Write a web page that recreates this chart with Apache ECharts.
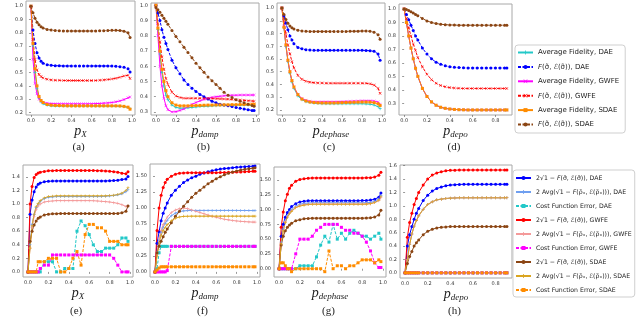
<!DOCTYPE html>
<html><head><meta charset="utf-8">
<script src="https://cdn.jsdelivr.net/npm/echarts@6/dist/echarts.min.js"></script>
<style>html,body{margin:0;padding:0;background:#fff}#c{width:640px;height:332px}</style>
</head><body><div id="c"></div>
<script>
// ---------- x grids ----------
const xs = [0,0.02,0.04,0.06,0.08,0.1,0.12,0.16,0.2,0.24,0.28,0.32,0.36,0.4,0.44,0.48,0.52,0.56,0.6,0.64,0.68,0.72,0.76,0.8,0.84,0.88,0.92,0.96,0.98];
const xd = [0,0.02,0.04,0.06,0.08,0.1,0.12,0.16,0.2,0.24,0.28,0.32,0.36,0.4,0.44,0.48,0.52,0.56,0.6,0.64,0.68,0.72,0.76,0.8,0.84,0.88,0.9];

// ---------- tick labels ----------
const xTicksFull = [0,0.2,0.4,0.6,0.8,1.0];
const xTicksDepo = [0,0.2,0.4,0.6,0.8];
const yTicksA = [0.2,0.3,0.4,0.5,0.6,0.7,0.8,0.9,1.0];
const yTicksB = [0.3,0.4,0.5,0.6,0.7,0.8,0.9,1.0];
const yTicksC = [0.2,0.3,0.4,0.5,0.6,0.7,0.8,0.9,1.0];
const yTicksD = [0.3,0.4,0.5,0.6,0.7,0.8,0.9,1.0];
const yTicksE = [0,0.2,0.4,0.6,0.8,1.0,1.2,1.4];
const yTicksF = [0,0.25,0.5,0.75,1.0,1.25,1.5];
const yTicksG = [0,0.25,0.5,0.75,1.0,1.25,1.5];
const yTicksH = [0,0.2,0.4,0.6,0.8,1.0,1.2,1.4,1.6];

// ---------- legend names ----------
const topNames = ['Average Fidelity, DAE','F(σ\u0303, \u2130(σ\u0303)), DAE','Average Fidelity, GWFE','F(σ\u0303, \u2130(σ\u0303)), GWFE','Average Fidelity, SDAE','F(σ\u0303, \u2130(σ\u0303)), SDAE'];
const botNames = ['2√1 − F(σ\u0303, \u2130(σ\u0303)), DAE','2 Avg(√1 − F(ρ\u0303\u2093, \u2130(ρ\u0303\u2093))), DAE','Cost Function Error, DAE',
  '2√1 − F(σ\u0303, \u2130(σ\u0303)), GWFE','2 Avg(√1 − F(ρ\u0303\u2093, \u2130(ρ\u0303\u2093))), GWFE','Cost Function Error, GWFE',
  '2√1 − F(σ\u0303, \u2130(σ\u0303)), SDAE','2 Avg(√1 − F(ρ\u0303\u2093, \u2130(ρ\u0303\u2093))), SDAE','Cost Function Error, SDAE'];

// ---------- (a) p_X ----------
const aAvgDAE = [1.0,0.70,0.50,0.38,0.31,0.28,0.265,0.255,0.25,0.248,0.248,0.248,0.248,0.248,0.248,0.248,0.248,0.248,0.248,0.248,0.248,0.248,0.248,0.248,0.248,0.247,0.243,0.238,0.228];
const aFDAE = [1.0,0.82,0.72,0.65,0.61,0.585,0.57,0.56,0.555,0.552,0.551,0.55,0.55,0.55,0.55,0.55,0.55,0.55,0.55,0.55,0.55,0.55,0.55,0.549,0.548,0.545,0.54,0.53,0.505];
const aAvgGWFE = [1.0,0.6,0.42,0.34,0.3,0.285,0.275,0.27,0.267,0.266,0.265,0.265,0.265,0.265,0.265,0.265,0.265,0.265,0.266,0.267,0.268,0.27,0.272,0.275,0.28,0.287,0.297,0.31,0.317];
const aFGWFE = [1.0,0.75,0.6,0.52,0.485,0.47,0.46,0.45,0.445,0.443,0.442,0.441,0.44,0.44,0.44,0.44,0.44,0.44,0.44,0.441,0.443,0.445,0.448,0.452,0.457,0.465,0.475,0.48,0.455];
const aAvgSDAE = [1.0,0.72,0.53,0.4,0.32,0.29,0.275,0.26,0.255,0.253,0.252,0.251,0.25,0.25,0.25,0.25,0.25,0.25,0.25,0.25,0.25,0.25,0.25,0.25,0.25,0.249,0.246,0.24,0.225];
const aFSDAE = [1.0,0.95,0.91,0.88,0.86,0.845,0.835,0.825,0.82,0.817,0.815,0.814,0.813,0.813,0.813,0.813,0.813,0.813,0.813,0.814,0.815,0.816,0.817,0.818,0.818,0.817,0.812,0.8,0.765];

// ---------- (b) p_damp ----------
const bAvgDAE = [1.0,0.84,0.68,0.56,0.47,0.41,0.38,0.345,0.33,0.325,0.325,0.327,0.33,0.333,0.335,0.337,0.338,0.34,0.341,0.342,0.343,0.344,0.344,0.345,0.345,0.345,0.345,0.345,0.345];
const bFDAE = [1.0,0.95,0.9,0.84,0.79,0.75,0.71,0.64,0.59,0.55,0.51,0.48,0.455,0.435,0.415,0.4,0.385,0.37,0.36,0.35,0.345,0.34,0.335,0.33,0.325,0.32,0.315,0.31,0.31];
const bAvgGWFE = [1.0,0.8,0.6,0.47,0.39,0.34,0.315,0.3,0.302,0.31,0.32,0.335,0.35,0.362,0.373,0.382,0.39,0.396,0.4,0.403,0.406,0.408,0.41,0.41,0.411,0.411,0.411,0.411,0.411];
const bFGWFE = [1.0,0.88,0.76,0.66,0.58,0.52,0.48,0.43,0.405,0.395,0.39,0.39,0.39,0.39,0.39,0.39,0.389,0.388,0.387,0.386,0.385,0.384,0.382,0.38,0.378,0.376,0.374,0.372,0.37];
const bAvgSDAE = [1.0,0.85,0.7,0.58,0.5,0.44,0.4,0.36,0.345,0.34,0.34,0.34,0.341,0.342,0.343,0.344,0.345,0.345,0.346,0.346,0.347,0.347,0.348,0.348,0.349,0.349,0.35,0.35,0.35];
const bFSDAE = [0.985,0.97,0.955,0.935,0.915,0.895,0.875,0.835,0.795,0.76,0.725,0.69,0.655,0.62,0.59,0.56,0.53,0.505,0.48,0.455,0.43,0.41,0.395,0.38,0.37,0.36,0.35,0.342,0.338];

// ---------- (c) p_dephase ----------
const cAvgDAE = [1.0,0.85,0.7,0.58,0.49,0.42,0.37,0.31,0.28,0.265,0.258,0.253,0.25,0.249,0.248,0.248,0.248,0.248,0.248,0.248,0.248,0.248,0.248,0.248,0.247,0.245,0.238,0.225,0.21];
const cFDAE = [1.0,0.94,0.88,0.83,0.78,0.75,0.72,0.69,0.68,0.673,0.67,0.668,0.668,0.668,0.668,0.668,0.668,0.668,0.668,0.668,0.668,0.668,0.668,0.668,0.667,0.665,0.66,0.64,0.59];
const cAvgGWFE = [1.0,0.86,0.71,0.59,0.5,0.43,0.38,0.32,0.29,0.275,0.268,0.265,0.264,0.264,0.264,0.264,0.264,0.265,0.266,0.267,0.268,0.269,0.27,0.271,0.272,0.272,0.27,0.262,0.245];
const cFGWFE = [1.0,0.9,0.8,0.71,0.64,0.58,0.53,0.47,0.44,0.425,0.418,0.414,0.412,0.411,0.41,0.41,0.41,0.41,0.41,0.41,0.41,0.41,0.41,0.41,0.409,0.405,0.395,0.37,0.33];
const cAvgSDAE = [1.0,0.85,0.71,0.59,0.5,0.43,0.38,0.32,0.285,0.27,0.262,0.258,0.256,0.255,0.255,0.255,0.255,0.256,0.257,0.258,0.259,0.26,0.261,0.262,0.262,0.261,0.257,0.248,0.235];
const cFSDAE = [1.0,0.95,0.91,0.88,0.86,0.845,0.835,0.825,0.82,0.818,0.817,0.817,0.817,0.817,0.817,0.817,0.817,0.817,0.817,0.817,0.818,0.818,0.819,0.82,0.82,0.818,0.81,0.79,0.755];

// ---------- (d) p_depo ----------
const dAvgDAE = [1.0,0.9,0.8,0.71,0.63,0.56,0.5,0.41,0.35,0.31,0.285,0.27,0.262,0.257,0.254,0.252,0.251,0.25,0.25,0.25,0.25,0.25,0.25,0.25,0.25,0.25,0.25];
const dFDAE = [1.0,0.96,0.92,0.88,0.84,0.8,0.77,0.71,0.665,0.63,0.605,0.59,0.578,0.571,0.567,0.565,0.563,0.562,0.562,0.562,0.562,0.562,0.562,0.562,0.562,0.562,0.562];
const dAvgGWFE = [1.0,0.9,0.8,0.71,0.63,0.56,0.5,0.41,0.35,0.31,0.285,0.27,0.262,0.257,0.254,0.252,0.251,0.25,0.25,0.25,0.25,0.25,0.25,0.25,0.25,0.25,0.25];
const dFGWFE = [1.0,0.93,0.86,0.8,0.74,0.69,0.64,0.57,0.515,0.475,0.448,0.432,0.422,0.416,0.413,0.411,0.41,0.41,0.41,0.41,0.41,0.41,0.41,0.41,0.41,0.41,0.41];
const dAvgSDAE = [1.0,0.9,0.8,0.71,0.63,0.56,0.5,0.41,0.35,0.31,0.285,0.27,0.262,0.257,0.254,0.252,0.251,0.25,0.25,0.25,0.25,0.25,0.25,0.25,0.25,0.25,0.25];
const dFSDAE = [1.0,0.997,0.99,0.98,0.97,0.96,0.95,0.93,0.912,0.9,0.892,0.887,0.884,0.882,0.881,0.88,0.88,0.88,0.88,0.88,0.88,0.88,0.88,0.88,0.88,0.88,0.88];

// ---------- (e) p_X ----------
const eSqDAE = [0,0.85,1.06,1.18,1.25,1.29,1.31,1.33,1.335,1.338,1.34,1.34,1.34,1.34,1.34,1.34,1.34,1.34,1.34,1.34,1.34,1.34,1.34,1.342,1.345,1.35,1.36,1.37,1.405];
const eAvgDAE = [0,0.4,0.7,0.85,0.95,1.0,1.04,1.08,1.1,1.105,1.11,1.11,1.11,1.11,1.11,1.11,1.11,1.11,1.11,1.11,1.11,1.11,1.115,1.12,1.125,1.135,1.15,1.18,1.21];
const eCostDAE = [0,0,0,0,0,0,0,0.15,0.15,0.15,0,0,0.05,0.05,0.05,0.6,0.75,0.68,0.55,0.4,0.3,0.3,0.35,0.35,0.35,0.4,0.5,0.5,0.45];
const eSqGWFE = [0,1.0,1.26,1.39,1.435,1.456,1.47,1.48,1.49,1.492,1.494,1.495,1.495,1.495,1.495,1.495,1.495,1.495,1.495,1.494,1.492,1.49,1.487,1.483,1.477,1.468,1.455,1.445,1.475];
const eAvgGWFE = [0,0.35,0.65,0.82,0.92,0.97,1.0,1.03,1.04,1.045,1.05,1.05,1.05,1.05,1.05,1.05,1.05,1.05,1.05,1.048,1.045,1.04,1.035,1.03,1.02,1.01,0.99,0.965,0.975];
const eCostGWFE = [0,0,0,0,0,0,0.05,0.1,0.1,0.25,0.25,0.25,0.25,0.25,0.25,0.25,0.25,0.25,0.25,0.25,0.25,0.25,0.25,0.25,0.2,0.1,0,0,0];
const eSqSDAE = [0,0.45,0.6,0.69,0.75,0.79,0.81,0.84,0.85,0.855,0.858,0.86,0.86,0.86,0.86,0.86,0.86,0.86,0.86,0.86,0.86,0.86,0.86,0.86,0.86,0.862,0.87,0.895,0.97];
const eAvgSDAE = [0,0.35,0.68,0.85,0.96,1.01,1.05,1.09,1.11,1.115,1.12,1.12,1.12,1.12,1.12,1.12,1.12,1.12,1.12,1.12,1.12,1.12,1.12,1.125,1.13,1.14,1.16,1.2,1.24];
const eCostSDAE = [0,0,0,0,0,0.15,0.15,0.15,0.2,0.2,0.2,0,0,0.05,0.2,0.3,0.1,0.55,0.7,0.7,0.65,0.65,0.6,0.45,0.45,0.45,0.4,0.4,0.4];

// ---------- (f) p_damp ----------
const fSqDAE = [0,0.45,0.63,0.8,0.92,1.0,1.08,1.2,1.28,1.34,1.4,1.44,1.475,1.5,1.53,1.55,1.57,1.585,1.6,1.61,1.618,1.625,1.632,1.638,1.643,1.648,1.652,1.656,1.658];
const fAvgDAE = [0,0.3,0.5,0.62,0.7,0.76,0.81,0.88,0.92,0.945,0.955,0.96,0.962,0.963,0.963,0.963,0.963,0.963,0.963,0.963,0.963,0.963,0.963,0.963,0.962,0.962,0.961,0.96,0.96];
const fCostDAE = [0,0.05,0.3,0.4,0.4,0.4,0.4,0.4,0.4,0.4,0.4,0.4,0.4,0.4,0.4,0.4,0.4,0.4,0.4,0.4,0.4,0.4,0.4,0.4,0.4,0.4,0.4,0.4,0.4];
const fSqGWFE = [0,0.65,1.0,1.2,1.32,1.4,1.45,1.5,1.53,1.545,1.55,1.552,1.553,1.553,1.553,1.553,1.553,1.553,1.553,1.555,1.557,1.559,1.561,1.563,1.566,1.569,1.572,1.575,1.577];
const fAvgGWFE = [0,0.3,0.52,0.65,0.74,0.8,0.86,0.93,0.97,0.99,1.0,0.99,0.97,0.95,0.93,0.91,0.89,0.87,0.855,0.84,0.825,0.815,0.805,0.798,0.792,0.787,0.783,0.78,0.78];
const fCostGWFE = [0,0,0,0,0,0,0.02,0.4,0.4,0.4,0.4,0.4,0.4,0.4,0.4,0.4,0.4,0.4,0.4,0.4,0.4,0.4,0.4,0.4,0.4,0.4,0.4,0.4,0.4];
const fSqSDAE = [0,0.3,0.4,0.48,0.55,0.62,0.67,0.77,0.87,0.95,1.03,1.1,1.17,1.23,1.28,1.33,1.38,1.42,1.46,1.49,1.52,1.545,1.565,1.58,1.595,1.607,1.617,1.625,1.63];
const fAvgSDAE = [0,0.25,0.45,0.57,0.65,0.7,0.74,0.8,0.84,0.86,0.87,0.872,0.873,0.873,0.873,0.873,0.873,0.873,0.873,0.873,0.873,0.873,0.873,0.873,0.873,0.873,0.873,0.873,0.873];
const fCostSDAE = [0,0.03,0.06,0.08,0.08,0.08,0.08,0.08,0.08,0.08,0.08,0.08,0.08,0.08,0.08,0.08,0.08,0.08,0.08,0.08,0.08,0.08,0.08,0.08,0.08,0.08,0.08,0.08,0.08];

// ---------- (g) p_dephase ----------
const gSqDAE = [0,0.55,0.75,0.87,0.95,1.0,1.05,1.1,1.13,1.14,1.148,1.15,1.15,1.15,1.15,1.15,1.15,1.15,1.15,1.15,1.15,1.15,1.15,1.152,1.155,1.16,1.175,1.21,1.28];
const gAvgDAE = [0,0.45,0.68,0.82,0.9,0.96,1.0,1.06,1.09,1.105,1.11,1.115,1.115,1.115,1.115,1.115,1.115,1.115,1.115,1.115,1.115,1.115,1.115,1.115,1.117,1.12,1.14,1.18,1.24];
const gCostDAE = [0,0,0,0,0,0,0,0,0.05,0.05,0.05,0.05,0.2,0.4,0.55,0.45,0.75,0.5,0.6,0.5,0.6,0.65,0.6,0.55,0.55,0.5,0.55,0.6,0.5];
const gSqGWFE = [0,0.7,0.96,1.15,1.26,1.36,1.41,1.48,1.51,1.52,1.53,1.535,1.535,1.535,1.535,1.535,1.535,1.535,1.535,1.535,1.535,1.535,1.535,1.535,1.537,1.54,1.55,1.58,1.63];
const gAvgGWFE = [0,0.4,0.65,0.8,0.88,0.94,0.98,1.04,1.07,1.085,1.09,1.095,1.095,1.095,1.095,1.095,1.095,1.095,1.095,1.095,1.095,1.095,1.095,1.095,1.097,1.1,1.12,1.15,1.2];
const gCostGWFE = [0,0,0,0,0,0,0,0.25,0.5,0.5,0.5,0.55,0.65,0.7,0.75,0.75,0.75,0.75,0.7,0.65,0.65,0.6,0.6,0.55,0.45,0.3,0.1,0.02,0.02];
const gSqSDAE = [0,0.4,0.55,0.64,0.7,0.74,0.77,0.81,0.83,0.845,0.85,0.855,0.855,0.855,0.855,0.855,0.855,0.855,0.855,0.855,0.855,0.855,0.855,0.855,0.857,0.86,0.875,0.91,0.99];
const gAvgSDAE = [0,0.42,0.64,0.78,0.87,0.93,0.97,1.03,1.06,1.075,1.085,1.09,1.09,1.09,1.09,1.09,1.09,1.09,1.09,1.09,1.09,1.09,1.09,1.09,1.092,1.1,1.12,1.16,1.22];
const gCostSDAE = [0,0.1,0.1,0.05,0,0,-0.05,0,0,0,0,0,0,0,-0.05,0.3,0,0.05,0.05,0,0.05,0.05,0.1,0.15,0.15,0.15,0.1,0.15,0.12];

// ---------- (h) p_depo ----------
const hSqDAE = [0,0.4,0.57,0.69,0.8,0.89,0.96,1.08,1.16,1.22,1.26,1.28,1.3,1.31,1.315,1.32,1.322,1.322,1.322,1.322,1.322,1.322,1.322,1.322,1.322,1.322,1.322];
const hAvgDAE = [0,0.2,0.42,0.58,0.7,0.78,0.85,0.95,1.02,1.06,1.09,1.1,1.11,1.115,1.118,1.12,1.12,1.12,1.12,1.12,1.12,1.12,1.12,1.12,1.12,1.12,1.12];
const hCostDAE = [0,0,0,0,0,0,0,0,0,0,0,0,0,0,0,0,0,0,0,0,0,0,0,0,0,0,0];
const hSqGWFE = [0,0.53,0.75,0.89,1.02,1.11,1.2,1.31,1.4,1.46,1.49,1.51,1.523,1.53,1.533,1.535,1.535,1.535,1.535,1.535,1.535,1.535,1.535,1.535,1.535,1.535,1.535];
const hAvgGWFE = [0,0.2,0.42,0.58,0.7,0.78,0.85,0.95,1.02,1.06,1.09,1.1,1.11,1.115,1.118,1.12,1.12,1.12,1.12,1.12,1.12,1.12,1.12,1.12,1.12,1.12,1.12];
const hCostGWFE = [0,0,0,0,0,0,0,0,0,0,0,0,0,0,0,0,0,0,0,0,0,0,0,0,0,0,0];
const hSqSDAE = [0,0.14,0.245,0.32,0.4,0.45,0.49,0.57,0.62,0.65,0.67,0.68,0.685,0.69,0.69,0.69,0.69,0.69,0.69,0.69,0.69,0.69,0.69,0.69,0.69,0.69,0.69];
const hAvgSDAE = [0,0.2,0.42,0.58,0.7,0.78,0.85,0.95,1.02,1.06,1.09,1.1,1.11,1.115,1.118,1.12,1.12,1.12,1.12,1.12,1.12,1.12,1.12,1.12,1.12,1.12,1.12];
const hCostSDAE = [0,0,0,0,0,0,0,0,0,0,0,0,0,0,0,0,0,0,0,0,0,0,0,0,0,0,0];

// ---------- styles ----------
const PLUS = 'path://M4,0H6V4H10V6H6V10H4V6H0V4H4Z';
const XSYM = 'path://M0,1L1,0L5,4L9,0L10,1L6,5L10,9L9,10L5,6L1,10L0,9L4,5Z';
const topStyle = [
  {c:'#22c8c8', dash:false, sym:PLUS},
  {c:'#0000ff', dash:true, sym:'circle'},
  {c:'#ff00ff', dash:false, sym:XSYM},
  {c:'#ff0000', dash:true, sym:XSYM},
  {c:'#ff8c00', dash:false, sym:'rect'},
  {c:'#8b4513', dash:true, sym:'circle'}
];
const botStyle = [
  {c:'#0000ff', dash:false, sym:'circle'},
  {c:'#6f9ff0', dash:false, sym:PLUS},
  {c:'#22c8c8', dash:true, sym:'rect'},
  {c:'#ff0000', dash:false, sym:'circle'},
  {c:'#f49a9a', dash:false, sym:PLUS},
  {c:'#ff00ff', dash:true, sym:'rect'},
  {c:'#8b4513', dash:false, sym:'circle'},
  {c:'#daa520', dash:false, sym:PLUS},
  {c:'#ff8c00', dash:true, sym:'rect'}
];

const panels = [
  {g:[26,1,109,114], x:xs, xr:[-0.049,1.029], xt:xTicksFull, yr:[0.181,1.039], yt:yTicksA, dec:1, sub:'X', cap:'(a)', top:true,
   s:[aAvgDAE,aFDAE,aAvgGWFE,aFGWFE,aAvgSDAE,aFSDAE]},
  {g:[151,3,108,112], x:xs, xr:[-0.049,1.029], xt:xTicksFull, yr:[0.28,1.015], yt:yTicksB, dec:1, sub:'damp', cap:'(b)', top:true,
   s:[bAvgDAE,bFDAE,bAvgGWFE,bFGWFE,bAvgSDAE,bFSDAE]},
  {g:[277,3,108,112], x:xs, xr:[-0.049,1.029], xt:xTicksFull, yr:[0.16,1.04], yt:yTicksC, dec:1, sub:'dephase', cap:'(c)', top:true,
   s:[cAvgDAE,cFDAE,cAvgGWFE,cFGWFE,cAvgSDAE,cFSDAE]},
  {g:[399,4,113,111], x:xd, xr:[-0.045,0.945], xt:xTicksDepo, yr:[0.2125,1.0375], yt:yTicksD, dec:1, sub:'depo', cap:'(d)', top:true,
   s:[dAvgDAE,dFDAE,dAvgGWFE,dFGWFE,dAvgSDAE,dFSDAE]},
  {g:[23,165,110,112], x:xs, xr:[-0.049,1.029], xt:xTicksFull, yr:[-0.075,1.575], yt:yTicksE, dec:1, sub:'X', cap:'(e)', top:false,
   s:[eSqDAE,eAvgDAE,eCostDAE,eSqGWFE,eAvgGWFE,eCostGWFE,eSqSDAE,eAvgSDAE,eCostSDAE]},
  {g:[150,164,110,113], x:xs, xr:[-0.049,1.029], xt:xTicksFull, yr:[-0.08,1.69], yt:yTicksF, dec:2, sub:'damp', cap:'(f)', top:false,
   s:[fSqDAE,fAvgDAE,fCostDAE,fSqGWFE,fAvgGWFE,fCostGWFE,fSqSDAE,fAvgSDAE,fCostSDAE]},
  {g:[274,167,112,110], x:xs, xr:[-0.049,1.029], xt:xTicksFull, yr:[-0.14,1.72], yt:yTicksG, dec:2, sub:'dephase', cap:'(g)', top:false,
   s:[gSqDAE,gAvgDAE,gCostDAE,gSqGWFE,gAvgGWFE,gCostGWFE,gSqSDAE,gAvgSDAE,gCostSDAE]},
  {g:[400,165,112,113], x:xd, xr:[-0.045,0.945], xt:xTicksDepo, yr:[-0.077,1.61], yt:yTicksH, dec:1, sub:'depo', cap:'(h)', top:false,
   s:[hSqDAE,hAvgDAE,hCostDAE,hSqGWFE,hAvgGWFE,hCostGWFE,hSqSDAE,hAvgSDAE,hCostSDAE]}
];

const tickFont = {fontSize:5, color:'#333', fontFamily:'DejaVu Sans'};
const grids = [], xAxes = [], yAxes = [], series = [], graphics = [];
panels.forEach((p, k) => {
  grids.push({left:p.g[0], top:p.g[1], width:p.g[2], height:p.g[3], show:true, borderColor:'#a8a8a8', borderWidth:1, backgroundColor:'#fff', containLabel:false});
  xAxes.push({type:'value', gridIndex:k, min:p.xr[0], max:p.xr[1],
    axisLine:{show:false}, splitLine:{show:false},
    axisTick:{show:true, customValues:p.xt, length:2, lineStyle:{color:'#555', width:0.6}},
    axisLabel:{customValues:p.xt, margin:3, formatter:v=>v.toFixed(1), ...tickFont},
    name:'{p|p}{s|'+p.sub+'}', nameLocation:'middle', nameGap:8,
    nameTextStyle:{rich:{
      p:{fontFamily:'Liberation Serif', fontStyle:'italic', fontSize:14, color:'#222'},
      s:{fontFamily:'Liberation Serif', fontStyle:'italic', fontSize:9, color:'#222', padding:[7,0,0,0]}}}
  });
  yAxes.push({type:'value', gridIndex:k, min:p.yr[0], max:p.yr[1],
    axisLine:{show:false}, splitLine:{show:false},
    axisTick:{show:true, customValues:p.yt, length:2, lineStyle:{color:'#555', width:0.6}},
    axisLabel:{customValues:p.yt, margin:3, formatter:v=>v.toFixed(p.dec), ...tickFont}
  });
  const names = p.top ? topNames : botNames;
  const styles = p.top ? topStyle : botStyle;
  p.s.forEach((arr, j) => {
    const st = styles[j];
    series.push({type:'line', name:names[j], xAxisIndex:k, yAxisIndex:k,
      data:p.x.map((x,i)=>[x, arr[i]]),
      symbol:st.sym, symbolSize:3, showSymbol:true, clip:true,
      lineStyle:{color:st.c, width:1, type:st.dash?[3,1.5]:'solid'},
      itemStyle:{color:st.c}, animation:false, silent:true});
  });
  const cx = p.g[0] + p.g[2]/2;
  graphics.push({type:'text', left:cx - 8, top:p.top ? 142 : 306,
    style:{text:p.cap, fontSize:11, fontFamily:'Liberation Serif', fill:'#222'}});
});

function fmt(n){
  return n.replace(/F\(/g,'{i|F}(').replace(/\u2130/g,'{i|\u2130}');
}
const legendCommon = {orient:'vertical', backgroundColor:'#fff', borderColor:'#cfcfcf', borderWidth:1, borderRadius:3,
  itemWidth:15, itemHeight:5, formatter:fmt, selectedMode:false};

const option = {
  backgroundColor:'#fff',
  animation:false,
  grid:grids, xAxis:xAxes, yAxis:yAxes, series:series,
  graphic:graphics,
  legend:[
    Object.assign({}, legendCommon, {left:515, top:45, padding:[3,6,4,2], itemGap:5.4, data:topNames,
      textStyle:{fontSize:7, lineHeight:9, color:'#222', fontFamily:'DejaVu Sans',
        rich:{i:{fontSize:7, fontStyle:'italic', fontFamily:'DejaVu Sans', color:'#222'}}}}),
    Object.assign({}, legendCommon, {left:513, top:170, padding:[4,3,3,2], itemGap:6, data:botNames,
      textStyle:{fontSize:6.2, lineHeight:8, color:'#222', fontFamily:'DejaVu Sans',
        rich:{i:{fontSize:6.2, fontStyle:'italic', fontFamily:'DejaVu Sans', color:'#222'}}}})
  ]
};
const chart = echarts.init(document.getElementById('c'), null, {renderer:'canvas'});
chart.setOption(option);
</script></body></html>
